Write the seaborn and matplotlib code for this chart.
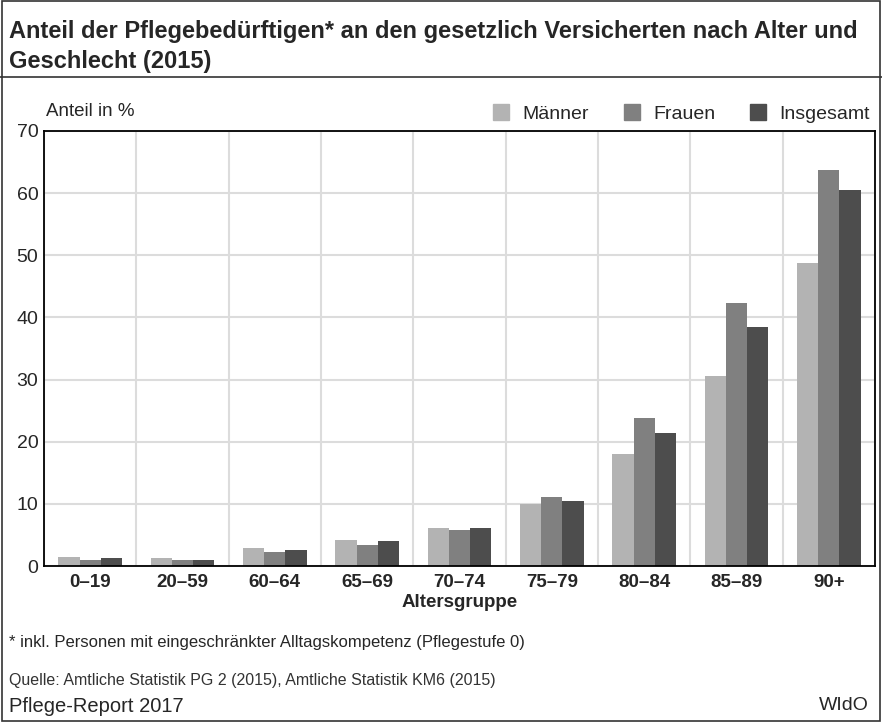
import numpy as np
import pandas as pd
import matplotlib
matplotlib.use("Agg")
import matplotlib.pyplot as plt
import seaborn as sns
from matplotlib.lines import Line2D
from matplotlib.patches import Rectangle
from matplotlib import font_manager

# Data
age_groups = ["0–19", "20–59", "60–64", "65–69", "70–74", "75–79", "80–84", "85–89", "90+"]
maenner = [1.45, 1.3, 2.9, 4.2, 6.1, 10.0, 18.0, 30.6, 48.8]
frauen = [0.95, 0.95, 2.25, 3.4, 5.8, 11.1, 23.8, 42.3, 63.8]
insgesamt = [1.3, 0.95, 2.6, 4.0, 6.1, 10.5, 21.4, 38.5, 60.5]
series_names = ["Männer", "Frauen", "Insgesamt"]
colors = ["#b3b3b3", "#808080", "#4d4d4d"]

df = pd.DataFrame({
    "Altersgruppe": age_groups * 3,
    "Gruppe": [s for s in series_names for _ in age_groups],
    "Anteil": maenner + frauen + insgesamt,
})

sns.set_style("white")
available = {f.name for f in font_manager.fontManager.ttflist}
narrow = "Liberation Sans Narrow" if "Liberation Sans Narrow" in available else "Liberation Sans"
plt.rcParams["font.family"] = [narrow, "DejaVu Sans"]

fig = plt.figure(figsize=(8.82, 7.22), dpi=100)
ax = fig.add_axes([0.0499, 0.216, 0.992 - 0.0499, 0.8186 - 0.216])

sns.barplot(data=df, x="Altersgruppe", y="Anteil", hue="Gruppe",
            palette=colors, width=0.69, saturation=1, ax=ax, legend=False,
            edgecolor="none", linewidth=0)

ax.set_ylim(0, 70)
ax.set_xlim(-0.5, len(age_groups) - 0.5)
ax.set_yticks(np.arange(0, 71, 10))
ax.tick_params(axis="y", labelsize=14, length=0, pad=4)
ax.tick_params(axis="x", labelsize=13.5, length=0, pad=6)
for lab in ax.get_xticklabels():
    lab.set_fontweight("bold")
ax.set_xticks(np.arange(-0.5, len(age_groups), 1), minor=True)
ax.grid(which="minor", axis="x", color="#dcdcdc", lw=1.5)
ax.grid(which="major", axis="y", color="#dcdcdc", lw=1.5)
ax.set_axisbelow(True)
for s in ax.spines.values():
    s.set_color("black")
    s.set_linewidth(1.3)
ax.set_ylabel("")
ax.set_xlabel("Altersgruppe", fontsize=13.5, fontweight="bold", labelpad=2)

fig.text(0.052, 0.846, "Anteil in %", fontsize=13.5, va="center")

handles = [Line2D([0], [0], marker="s", ls="", markersize=11, color=c) for c in colors]
fig.legend(handles, series_names, loc="center right", bbox_to_anchor=(0.995, 0.842),
           ncol=3, frameon=False, fontsize=14, handletextpad=0.1, columnspacing=1.2,
           borderaxespad=0)

# Title and frame
fig.text(0.01, 0.956, "Anteil der Pflegebedürftigen* an den gesetzlich Versicherten nach Alter und",
         fontsize=17, fontweight="bold", va="center")
fig.text(0.01, 0.915, "Geschlecht (2015)", fontsize=17, fontweight="bold", va="center")
fig.add_artist(Line2D([0, 1], [1 - 77 / 722] * 2, color="#333333", lw=1.2))
fig.add_artist(Rectangle((0.002, 0.002), 0.996, 0.996, fill=False, ec="#333333", lw=1.2))

# Footer
fig.text(0.01, 1 - 643 / 722, "* inkl. Personen mit eingeschränkter Alltagskompetenz (Pflegestufe 0)",
         fontsize=12, va="center")
fig.text(0.01, 1 - 681 / 722, "Quelle: Amtliche Statistik PG 2 (2015), Amtliche Statistik KM6 (2015)",
         fontsize=11.5, va="center", color="#333333")
fig.text(0.01, 1 - 706 / 722, "Pflege-Report 2017", fontsize=14.5, va="center")
fig.text(0.985, 1 - 706 / 722, "WIdO", fontsize=14, va="center", ha="right")

fig.savefig("out.png", dpi=100)
